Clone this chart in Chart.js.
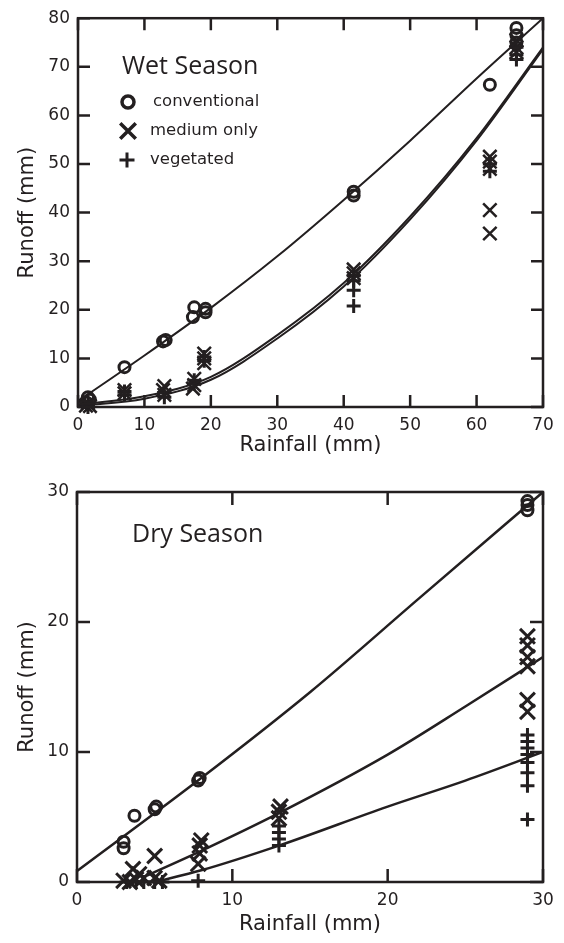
<!DOCTYPE html>
<html lang="en">
<head>
<meta charset="UTF-8" />
<title>Runoff vs Rainfall</title>
<script src="https://cdn.jsdelivr.net/npm/chart.js@4"></script>
<style>
  body{margin:0;background:#fff}
  .wrap{position:relative;width:564px;height:943px}
  #wet{position:absolute;left:0;top:0}
  #dry{position:absolute;left:0;top:460px}
</style>
</head>
<body>
<div class="wrap">
  <canvas id="wet" width="564" height="460"></canvas>
  <canvas id="dry" width="564" height="483"></canvas>
</div>
<script>
// --- wet season storms: rainfall / runoff (mm) ---------------------------
const wetConvRain   = [1.2, 1.5, 1.8, 7, 12.8, 13.2, 17.3, 17.5, 19.2, 19.2, 41.5, 41.5, 62, 66, 66, 66];
const wetConvRunoff = [1.0, 2.0, 1.5, 8.2, 13.5, 13.8, 18.5, 20.5, 19.5, 20.2, 43.5, 44.3, 66.3, 78, 76.5, 75];
const wetMedRain    = [1.2, 1.5, 1.8, 7, 7, 12.8, 13, 13, 17.3, 17.5, 17.5, 19, 19, 19, 41.5, 41.5, 41.5, 62, 62, 62, 62, 62, 66, 66, 66];
const wetMedRunoff  = [0.3, 0.8, 0.2, 3.5, 2.8, 3.5, 2.5, 4.3, 3.8, 4.5, 5.8, 9.0, 10.0, 11.0, 26.5, 27.5, 28.3, 49, 50.5, 51.5, 40.5, 35.7, 74, 75.5, 73];
const wetVegRain    = [1.5, 1.5, 7, 7, 13, 13, 17.5, 17.5, 19, 19, 41.5, 41.5, 41.5, 41.5, 62, 62, 66, 66, 66];
const wetVegRunoff  = [0, 0.5, 2.5, 3.2, 2.0, 3.0, 4.8, 5.5, 9.5, 10.3, 26, 27, 24, 20.8, 48.5, 50, 71.5, 72.5, 74];

// fitted curves (wet)
const wetFitRain = [0, 10, 20, 30, 40, 50, 60, 70];
const wetConvFit = [1.2, 10.6, 20.4, 31, 42.6, 54.8, 67.6, 80];
const wetMedFit  = [0.5, 2.2, 6.2, 14.8, 25.5, 39.2, 55.3, 74];
const wetVegFit  = [0.2, 1.7, 5.6, 14.1, 24.8, 38.6, 54.8, 73.6];

// --- dry season storms ---------------------------------------------------
const dryConvRain   = [3.0, 3.0, 3.7, 5.0, 5.1, 7.8, 7.9, 29, 29, 29];
const dryConvRunoff = [3.1, 2.6, 5.1, 5.6, 5.8, 7.8, 8.0, 28.6, 29.0, 29.3];
const dryMedRain    = [3.0, 3.4, 3.8, 3.6, 4.0, 4.3, 5.0, 5.0, 5.3, 7.8, 7.9, 7.9, 8.0, 13, 13, 13.1, 29, 29, 29, 29, 29, 29];
const dryMedRunoff  = [0.1, 0, 0.2, 1.0, 0.6, 0.3, 2.0, 0.3, 0.1, 1.4, 2.2, 2.8, 3.2, 4.9, 5.4, 5.8, 18.9, 18.2, 17.3, 16.6, 14.0, 13.1];
const dryVegRain    = [3.2, 3.8, 4.3, 5.0, 5.5, 7.8, 13, 13, 13, 13, 29, 29, 29, 29, 29, 29, 29, 29];
const dryVegRunoff  = [0, 0, 0, 0, 0, 0.1, 2.8, 3.3, 3.8, 4.3, 11.3, 10.8, 10.3, 9.8, 9.2, 8.4, 7.4, 4.8];

// fitted lines (dry)
const dryConvFitRain = [0, 8, 15, 22, 30];
const dryConvFit     = [0.85, 8.0, 14.6, 21.8, 30];
const dryMedFitRain  = [4.5, 8, 13, 20, 25, 30];
const dryMedFit      = [0.5, 2.4, 5.3, 9.8, 13.5, 17.3];
const dryVegFitRain  = [5, 8, 13, 20, 25, 30];
const dryVegFit      = [0, 0.9, 2.8, 5.8, 7.8, 10.0];

const wetTicks = {x: [0, 70], y: [0, 80]};
const dryTicks = {x: [0, 30], y: [0, 30]};
const seriesNames = ['conventional', 'medium only', 'vegetated'];

const INK = '#231f20';
const pts = (xs, ys) => xs.map((x, i) => ({x, y: ys[i]}));

function markers(label, xs, ys, style, r, w) {
  return {label, data: pts(xs, ys), showLine: false, pointStyle: style, pointRadius: r,
    pointHoverRadius: r, borderWidth: w, borderColor: INK, backgroundColor: 'rgba(0,0,0,0)', clip: false};
}
function fit(xs, ys, w) {
  return {label: 'fit', data: pts(xs, ys), showLine: true, pointRadius: 0, borderColor: INK,
    borderWidth: w, cubicInterpolationMode: 'monotone', fill: false};
}

// frame with inward ticks on all four sides, plus caption and key
const framePlugin = {
  id: 'frame',
  afterDatasetsDraw(chart, args, o) {
    const {ctx, chartArea: a, scales: {x, y}} = chart;
    ctx.save();
    ctx.strokeStyle = INK;
    ctx.lineWidth = 2.5;
    ctx.strokeRect(a.left, a.top, a.right - a.left, a.bottom - a.top);
    const len = o.tickLen;
    ctx.beginPath();
    x.ticks.forEach(t => {
      const px = x.getPixelForValue(t.value);
      ctx.moveTo(px, a.bottom); ctx.lineTo(px, a.bottom - len);
      ctx.moveTo(px, a.top); ctx.lineTo(px, a.top + len);
    });
    y.ticks.forEach(t => {
      const py = y.getPixelForValue(t.value);
      ctx.moveTo(a.left, py); ctx.lineTo(a.left + len, py);
      ctx.moveTo(a.right, py); ctx.lineTo(a.right - len, py);
    });
    ctx.stroke();

    ctx.fillStyle = INK;
    ctx.textBaseline = 'middle';
    ctx.font = '25px "Open Sans"';
    ctx.fillText(o.caption, o.capX, o.capY);

    (o.key || []).forEach(k => {
      ctx.fillStyle = 'rgba(0,0,0,0)';
      ctx.strokeStyle = INK;
      ctx.lineWidth = k.w;
      Chart.helpers.drawPoint(ctx, {pointStyle: k.style, radius: k.r, borderWidth: k.w, rotation: 0}, k.x, k.y);
      ctx.fillStyle = INK;
      ctx.font = '16.5px "DejaVu Sans"';
      ctx.fillText(k.label, k.tx, k.y);
    });
    ctx.restore();
  }
};

function axes(t, xH, yW) {
  const tickFont = {family: 'DejaVu Sans', size: 17};
  const titleFont = {family: 'DejaVu Sans', size: 21};
  return {
    x: {type: 'linear', min: t.x[0], max: t.x[1],
      grid: {display: false, drawTicks: false}, border: {display: false},
      ticks: {stepSize: 10, padding: 8, color: INK, font: tickFont, maxRotation: 0},
      title: {display: true, text: 'Rainfall (mm)', color: INK, font: titleFont, padding: 0},
      afterFit: s => { s.height = xH; }},
    y: {type: 'linear', min: t.y[0], max: t.y[1],
      grid: {display: false, drawTicks: false}, border: {display: false},
      ticks: {stepSize: 10, padding: 8, color: INK, font: tickFont},
      title: {display: true, text: 'Runoff (mm)', color: INK, font: titleFont, padding: 0},
      afterFit: s => { s.width = yW; }}
  };
}

new Chart(document.getElementById('wet'), {
  type: 'scatter',
  data: {datasets: [
    fit(wetFitRain, wetConvFit, 2),
    fit(wetFitRain, wetMedFit, 2),
    fit(wetFitRain, wetVegFit, 2),
    markers(seriesNames[0], wetConvRain, wetConvRunoff, 'circle', 5.5, 3),
    markers(seriesNames[1], wetMedRain, wetMedRunoff, 'crossRot', 9.5, 2.5),
    markers(seriesNames[2], wetVegRain, wetVegRunoff, 'cross', 7, 3)
  ]},
  options: {
    responsive: false, animation: false, events: [],
    layout: {padding: {left: 15, right: 21, top: 16, bottom: 2}},
    scales: axes(wetTicks, 51, 63),
    plugins: {
      legend: {display: false}, tooltip: {enabled: false},
      frame: {tickLen: 12, caption: 'Wet Season', capX: 122, capY: 67, key: [
        {style: 'circle', r: 6, w: 3.5, x: 128, y: 102, tx: 153, label: seriesNames[0]},
        {style: 'crossRot', r: 11, w: 3.5, x: 128, y: 131, tx: 150, label: seriesNames[1]},
        {style: 'cross', r: 7.5, w: 3, x: 127, y: 160, tx: 150, label: seriesNames[2]}
      ]}
    }
  },
  plugins: [framePlugin]
});

new Chart(document.getElementById('dry'), {
  type: 'scatter',
  data: {datasets: [
    fit(dryConvFitRain, dryConvFit, 2.5),
    fit(dryMedFitRain, dryMedFit, 2.5),
    fit(dryVegFitRain, dryVegFit, 2.5),
    markers(seriesNames[0], dryConvRain, dryConvRunoff, 'circle', 5.5, 3),
    markers(seriesNames[1], dryMedRain, dryMedRunoff, 'crossRot', 10.5, 3),
    markers(seriesNames[2], dryVegRain, dryVegRunoff, 'cross', 7, 3)
  ]},
  options: {
    responsive: false, animation: false, events: [],
    layout: {padding: {left: 15, right: 21, top: 32, bottom: 6}},
    scales: axes(dryTicks, 55, 62),
    plugins: {
      legend: {display: false}, tooltip: {enabled: false},
      frame: {tickLen: 13, caption: 'Dry Season', capX: 132, capY: 75}
    }
  },
  plugins: [framePlugin]
});
</script>
</body>
</html>
